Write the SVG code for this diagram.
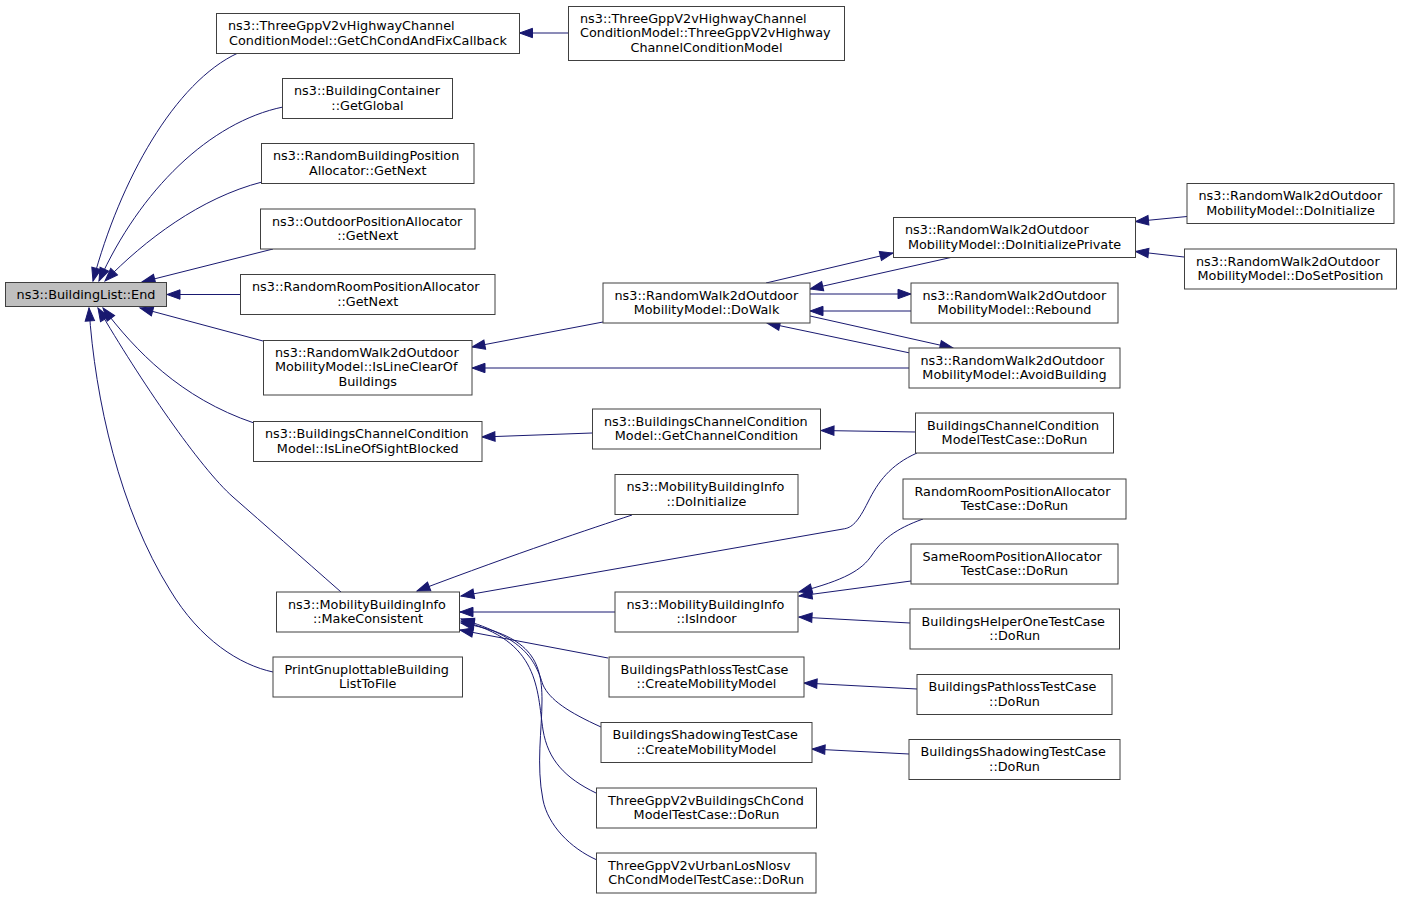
<svg xmlns="http://www.w3.org/2000/svg" width="1403" height="899" viewBox="0 0 1403 899">
<style>
.n rect{fill:#ffffff;stroke:#404040;stroke-width:1}
.n.g rect{fill:#bfbfbf}
.n text{font-family:"DejaVu Sans",sans-serif;font-size:12.8px;fill:#000}
.n text.c{text-anchor:middle}
#edges path{fill:none;stroke:#191970;stroke-width:1;marker-end:url(#a)}
</style>
<defs>
<marker id="a" markerWidth="14" markerHeight="10" refX="13" refY="5" orient="auto" markerUnits="userSpaceOnUse" overflow="visible">
<path d="M0,0.3 L13,5 L0,9.7 Z" fill="#191970" stroke="#191970" stroke-width="1"/>
</marker>
</defs>
<rect width="1403" height="899" fill="#ffffff"/>
<g id="edges">
<path d="M238,53 C175,82 120,180 93,281"/>
<path d="M283,107 C210,122 140,190 99,281"/>
<path d="M262,182 C200,198 145,240 105,281"/>
<path d="M273,249 L142,282"/>
<path d="M240,294.5 L167,294.5"/>
<path d="M263,341 L140,308"/>
<path d="M254,423 C180,398 135,350 103,308"/>
<path d="M341,592 C300,556 265,525 233,497 C200,468 140,380 98,308"/>
<path d="M273,672 C240,665 200,640 170,590 C120,510 95,400 89,308"/>
<path d="M568,33 L519.5,33"/>
<path d="M603,322 L472,347"/>
<path d="M909,368 L472,368"/>
<path d="M766,283 L893,253"/>
<path d="M953,257 L810,289"/>
<path d="M810,294 L911,294"/>
<path d="M911,311 L810,311"/>
<path d="M810,316 L953,348"/>
<path d="M910,353 L767,323"/>
<path d="M1187,216.5 L1135.5,221.5"/>
<path d="M1184,257 L1135.5,251.5"/>
<path d="M592,433 L482,437"/>
<path d="M916,432 L821,430.5"/>
<path d="M917,453 C890,465 878,482 868,502 C858,522 852,528 843,529 L461,596"/>
<path d="M632,515 C590,529 520,552 417,591"/>
<path d="M615,612 L460,612"/>
<path d="M608,658 L460,630"/>
<path d="M601,727 C568,712 550,700 543,685 C535,660 525,638 461,619"/>
<path d="M596,793 C565,778 548,760 543,730 C537,690 540,640 461,621"/>
<path d="M597,860 C570,848 548,825 543,800 C536,765 542,730 542,700 C542,660 530,635 461,623"/>
<path d="M923,519 C895,529 882,540 872,555 C862,570 845,580 799,592"/>
<path d="M911,581 L799,596"/>
<path d="M910,623 L799,617"/>
<path d="M917,689 L804,683"/>
<path d="M909,754 L812,749"/>
</g>
<g id="n1" class="n g"><rect x="5.5" y="282.5" width="161" height="24"/><text class="c" x="86" y="299">ns3::BuildingList::End</text></g>
<g id="n2" class="n"><rect x="216.5" y="13.5" width="303" height="40"/><text x="228" y="30.1">ns3::ThreeGppV2vHighwayChannel</text><text class="c" x="368" y="44.7">ConditionModel::GetChCondAndFixCallback</text></g>
<g id="n3" class="n"><rect x="568.5" y="6.5" width="276" height="54"/><text x="580" y="22.5">ns3::ThreeGppV2vHighwayChannel</text><text x="580" y="37.2">ConditionModel::ThreeGppV2vHighway</text><text class="c" x="706.5" y="51.5">ChannelConditionModel</text></g>
<g id="n4" class="n"><rect x="282.5" y="78.5" width="170" height="40"/><text x="294" y="95.1">ns3::BuildingContainer</text><text class="c" x="367.5" y="109.7">::GetGlobal</text></g>
<g id="n5" class="n"><rect x="261.5" y="143.5" width="212.5" height="40"/><text x="273" y="160.1">ns3::RandomBuildingPosition</text><text class="c" x="367.75" y="174.7">Allocator::GetNext</text></g>
<g id="n6" class="n"><rect x="260.5" y="209" width="214.5" height="40"/><text x="272" y="225.6">ns3::OutdoorPositionAllocator</text><text class="c" x="367.75" y="240.2">::GetNext</text></g>
<g id="n7" class="n"><rect x="240.5" y="274.5" width="254.5" height="40"/><text x="252" y="291.1">ns3::RandomRoomPositionAllocator</text><text class="c" x="367.75" y="305.7">::GetNext</text></g>
<g id="n8" class="n"><rect x="263.5" y="340.5" width="208.5" height="54.5"/><text x="275" y="356.5">ns3::RandomWalk2dOutdoor</text><text x="275" y="371.2">MobilityModel::IsLineClearOf</text><text class="c" x="367.75" y="385.5">Buildings</text></g>
<g id="n9" class="n"><rect x="253.5" y="421.5" width="228.5" height="40"/><text x="265" y="438.1">ns3::BuildingsChannelCondition</text><text class="c" x="367.75" y="452.7">Model::IsLineOfSightBlocked</text></g>
<g id="n10" class="n"><rect x="276.5" y="592" width="183" height="40"/><text x="288" y="608.6">ns3::MobilityBuildingInfo</text><text class="c" x="368" y="623.2">::MakeConsistent</text></g>
<g id="n11" class="n"><rect x="273" y="657" width="189.5" height="40"/><text x="284.5" y="673.6">PrintGnuplottableBuilding</text><text class="c" x="367.75" y="688.2">ListToFile</text></g>
<g id="n12" class="n"><rect x="603" y="283" width="207" height="40"/><text x="614.5" y="299.6">ns3::RandomWalk2dOutdoor</text><text class="c" x="706.5" y="314.2">MobilityModel::DoWalk</text></g>
<g id="n13" class="n"><rect x="893.5" y="217.5" width="242" height="40"/><text x="905" y="234.1">ns3::RandomWalk2dOutdoor</text><text class="c" x="1014.5" y="248.7">MobilityModel::DoInitializePrivate</text></g>
<g id="n14" class="n"><rect x="911" y="283" width="207" height="40"/><text x="922.5" y="299.6">ns3::RandomWalk2dOutdoor</text><text class="c" x="1014.5" y="314.2">MobilityModel::Rebound</text></g>
<g id="n15" class="n"><rect x="909" y="348" width="211" height="40"/><text x="920.5" y="364.6">ns3::RandomWalk2dOutdoor</text><text class="c" x="1014.5" y="379.2">MobilityModel::AvoidBuilding</text></g>
<g id="n16" class="n"><rect x="1187" y="183.5" width="207" height="40"/><text x="1198.5" y="200.1">ns3::RandomWalk2dOutdoor</text><text class="c" x="1290.5" y="214.7">MobilityModel::DoInitialize</text></g>
<g id="n17" class="n"><rect x="1184.5" y="249" width="212" height="40"/><text x="1196" y="265.6">ns3::RandomWalk2dOutdoor</text><text class="c" x="1290.5" y="280.2">MobilityModel::DoSetPosition</text></g>
<g id="n18" class="n"><rect x="592.5" y="409" width="228" height="40"/><text x="604" y="425.6">ns3::BuildingsChannelCondition</text><text class="c" x="706.5" y="440.2">Model::GetChannelCondition</text></g>
<g id="n19" class="n"><rect x="915.5" y="413" width="198" height="40"/><text x="927" y="429.6">BuildingsChannelCondition</text><text class="c" x="1014.5" y="444.2">ModelTestCase::DoRun</text></g>
<g id="n20" class="n"><rect x="615" y="474.5" width="183" height="40"/><text x="626.5" y="491.1">ns3::MobilityBuildingInfo</text><text class="c" x="706.5" y="505.7">::DoInitialize</text></g>
<g id="n21" class="n"><rect x="903" y="479" width="223" height="40"/><text x="914.5" y="495.6">RandomRoomPositionAllocator</text><text class="c" x="1014.5" y="510.2">TestCase::DoRun</text></g>
<g id="n22" class="n"><rect x="911" y="544" width="207" height="40"/><text x="922.5" y="560.6">SameRoomPositionAllocator</text><text class="c" x="1014.5" y="575.2">TestCase::DoRun</text></g>
<g id="n23" class="n"><rect x="615" y="592" width="183" height="40"/><text x="626.5" y="608.6">ns3::MobilityBuildingInfo</text><text class="c" x="706.5" y="623.2">::IsIndoor</text></g>
<g id="n24" class="n"><rect x="910" y="609" width="209.5" height="40"/><text x="921.5" y="625.6">BuildingsHelperOneTestCase</text><text class="c" x="1014.75" y="640.2">::DoRun</text></g>
<g id="n25" class="n"><rect x="609" y="657" width="195" height="40"/><text x="620.5" y="673.6">BuildingsPathlossTestCase</text><text class="c" x="706.5" y="688.2">::CreateMobilityModel</text></g>
<g id="n26" class="n"><rect x="917" y="674.5" width="195" height="40"/><text x="928.5" y="691.1">BuildingsPathlossTestCase</text><text class="c" x="1014.5" y="705.7">::DoRun</text></g>
<g id="n27" class="n"><rect x="601" y="722.5" width="211" height="40"/><text x="612.5" y="739.1">BuildingsShadowingTestCase</text><text class="c" x="706.5" y="753.7">::CreateMobilityModel</text></g>
<g id="n28" class="n"><rect x="909" y="739.5" width="211" height="40"/><text x="920.5" y="756.1">BuildingsShadowingTestCase</text><text class="c" x="1014.5" y="770.7">::DoRun</text></g>
<g id="n29" class="n"><rect x="596.5" y="788" width="220" height="40"/><text x="608" y="804.6">ThreeGppV2vBuildingsChCond</text><text class="c" x="706.5" y="819.2">ModelTestCase::DoRun</text></g>
<g id="n30" class="n"><rect x="596.5" y="853" width="219.5" height="40"/><text x="608" y="869.6">ThreeGppV2vUrbanLosNlosv</text><text class="c" x="706.25" y="884.2">ChCondModelTestCase::DoRun</text></g>
</svg>
